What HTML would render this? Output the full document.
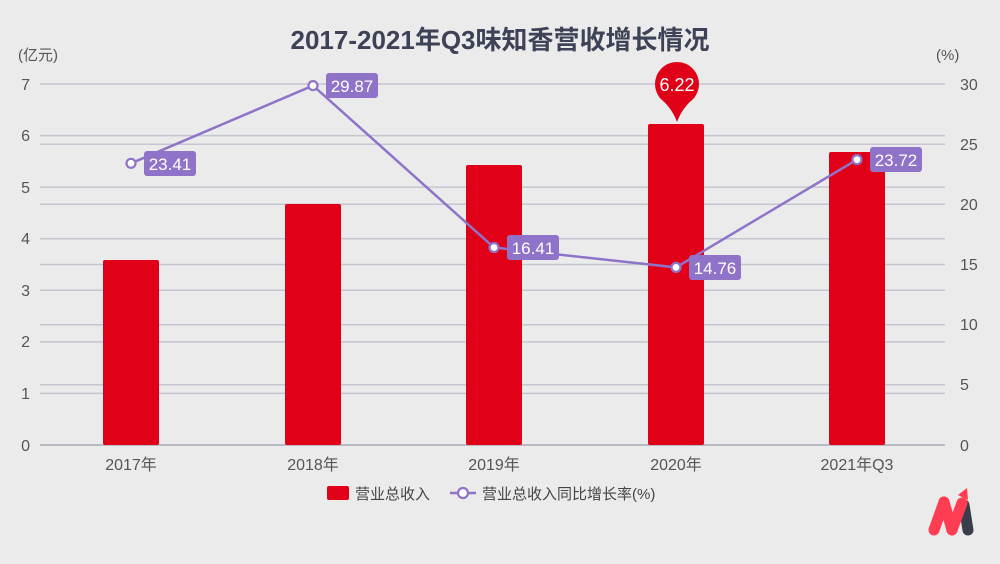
<!DOCTYPE html>
<html><head><meta charset="utf-8"><style>
html,body{margin:0;padding:0;background:#ebebeb;}
svg{display:block;font-family:"Liberation Sans","Noto Sans CJK SC",sans-serif;}
</style></head><body>
<svg width="1000" height="564" viewBox="0 0 1000 564">
<rect width="1000" height="564" fill="#ebebeb"/>
<text x="500" y="49" text-anchor="middle" font-size="26" font-weight="bold" fill="#3d4256">2017-2021年Q3味知香营收增长情况</text>
<text x="18" y="60" font-size="15" fill="#555">(亿元)</text>
<text x="936" y="60" font-size="15" fill="#555">(%)</text>
<g stroke="#c4c5cf" stroke-width="1.5">
<line x1="40" x2="945" y1="84" y2="84"/><line x1="40" x2="945" y1="135.6" y2="135.6"/><line x1="40" x2="945" y1="187.1" y2="187.1"/><line x1="40" x2="945" y1="238.7" y2="238.7"/><line x1="40" x2="945" y1="290.3" y2="290.3"/><line x1="40" x2="945" y1="341.9" y2="341.9"/><line x1="40" x2="945" y1="393.4" y2="393.4"/>
<line x1="40" x2="945" y1="144.2" y2="144.2"/><line x1="40" x2="945" y1="204.3" y2="204.3"/><line x1="40" x2="945" y1="264.5" y2="264.5"/><line x1="40" x2="945" y1="324.7" y2="324.7"/><line x1="40" x2="945" y1="384.8" y2="384.8"/>
</g>
<line x1="40" x2="945" y1="445" y2="445" stroke="#a8a9b8" stroke-width="1.5"/>
<g font-size="16" fill="#555" text-anchor="end">
<text x="30" y="90">7</text><text x="30" y="141">6</text><text x="30" y="193">5</text><text x="30" y="244">4</text><text x="30" y="296">3</text><text x="30" y="347">2</text><text x="30" y="399">1</text><text x="30" y="451">0</text>
</g>
<g font-size="16" fill="#555" text-anchor="start">
<text x="960" y="90">30</text><text x="960" y="150">25</text><text x="960" y="210">20</text><text x="960" y="270">15</text><text x="960" y="330">10</text><text x="960" y="390">5</text><text x="960" y="451">0</text>
</g>
<g fill="#e00018">
<rect x="103" y="260" width="56" height="185" rx="2"/>
<rect x="285" y="204" width="56" height="241" rx="2"/>
<rect x="466" y="165" width="56" height="280" rx="2"/>
<rect x="648" y="124" width="56" height="321" rx="2"/>
<rect x="829" y="152" width="56" height="293" rx="2"/>
<circle cx="677" cy="84" r="22"/>
<path d="M659 97 Q672 108 677 122 Q682 108 695 97 Z"/>
</g>
<text x="677" y="91" text-anchor="middle" font-size="18" fill="#fff">6.22</text>
<g font-size="16" fill="#555" text-anchor="middle">
<text x="131" y="470">2017年</text><text x="313" y="470">2018年</text><text x="494" y="470">2019年</text><text x="676" y="470">2020年</text><text x="857" y="470">2021年Q3</text>
</g>
<polyline points="131,163.3 313,85.6 494,247.5 676,267.4 857,159.6" fill="none" stroke="#8e73c8" stroke-width="2.5"/>
<g fill="#fff" stroke="#8e73c8" stroke-width="2.2">
<circle cx="131" cy="163.3" r="4.5"/><circle cx="313" cy="85.6" r="4.5"/><circle cx="494" cy="247.5" r="4.5"/><circle cx="676" cy="267.4" r="4.5"/><circle cx="857" cy="159.6" r="4.5"/>
</g>
<g fill="#8e73c8">
<rect x="144" y="151" width="52" height="25" rx="3"/>
<rect x="326" y="73" width="52" height="25" rx="3"/>
<rect x="507" y="235" width="52" height="25" rx="3"/>
<rect x="689" y="255" width="52" height="25" rx="3"/>
<rect x="870" y="147" width="52" height="25" rx="3"/>
</g>
<g font-size="17" fill="#fff" text-anchor="middle">
<text x="170" y="170">23.41</text><text x="352" y="92">29.87</text><text x="533" y="254">16.41</text><text x="715" y="274">14.76</text><text x="896" y="166">23.72</text>
</g>
<rect x="327" y="486" width="22" height="14" rx="2" fill="#e00018"/>
<text x="355" y="499" font-size="15" fill="#444">营业总收入</text>
<line x1="450" x2="476" y1="493" y2="493" stroke="#8e73c8" stroke-width="2.5"/>
<circle cx="463" cy="493" r="5" fill="#fff" stroke="#8e73c8" stroke-width="2.2"/>
<text x="482" y="499" font-size="15" fill="#444">营业总收入同比增长率(%)</text>
<g stroke-linecap="round" stroke-width="11">
<line x1="934" y1="530" x2="944" y2="502" stroke="#ff3d52"/>
<line x1="944" y1="502" x2="952" y2="530" stroke="#ff3d52"/>
<line x1="968" y1="530" x2="964" y2="505" stroke="#3a3d4a"/>
<line x1="952" y1="530" x2="962" y2="503" stroke="#ff3d52"/>
</g>
<path d="M958 495 L967 488 L968 500 Z" fill="#ff3d52"/>
</svg>
</body></html>
